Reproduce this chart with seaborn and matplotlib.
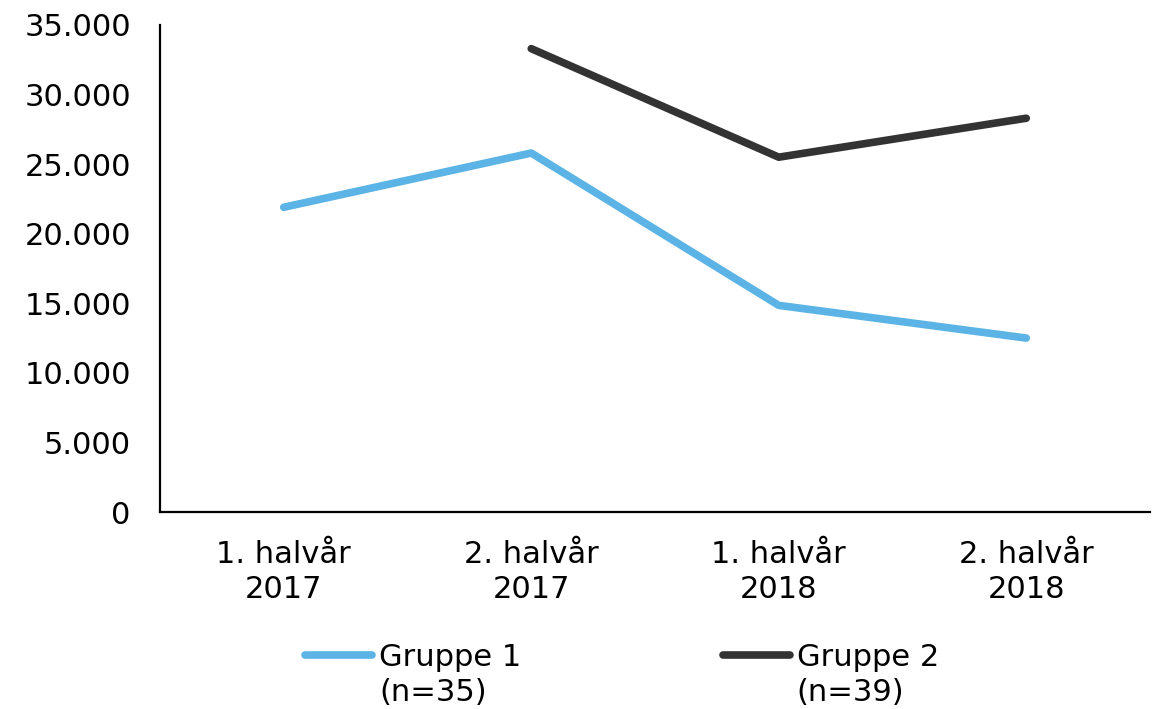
import matplotlib
matplotlib.use("Agg")
import matplotlib.pyplot as plt
import seaborn as sns
import pandas as pd
import numpy as np
from matplotlib.ticker import FuncFormatter, MultipleLocator
from matplotlib.lines import Line2D

periods = ["1. halvår\n2017", "2. halvår\n2017", "1. halvår\n2018", "2. halvår\n2018"]
gruppe1 = [21900, 25800, 14850, 12500]
gruppe2 = [np.nan, 33300, 25500, 28300]
series_names = ["Gruppe 1", "Gruppe 2"]
series_counts = ["(n=35)", "(n=39)"]
colors = ["#5BB4E5", "#333333"]

df = pd.DataFrame({
    "period": periods * 2,
    "value": gruppe1 + gruppe2,
    "series": [series_names[0]] * 4 + [series_names[1]] * 4,
})

sns.set_theme(style="white")
plt.rcParams["font.family"] = ["DejaVu Sans"]
plt.rcParams["text.color"] = "black"
plt.rcParams["xtick.color"] = "black"
plt.rcParams["ytick.color"] = "black"

FS = 22

fig = plt.figure(figsize=(11.56, 7.09), dpi=100)
ax = fig.add_axes([160 / 1156, 1 - 512 / 709, (1150 - 160) / 1156, (512 - 25) / 709])

sns.lineplot(data=df, x="period", y="value", hue="series", palette=colors,
             linewidth=5.5, ax=ax, sort=False, legend=False)
for ln in ax.lines:
    ln.set_solid_capstyle("round")

ax.set_xlim(-0.5, 3.5)
ax.set_ylim(0, 35000)
ax.yaxis.set_major_locator(MultipleLocator(5000))
ax.yaxis.set_major_formatter(FuncFormatter(lambda v, p: f"{int(v):,}".replace(",", ".")))
ax.set_xticks(range(len(periods)))
ax.set_xticklabels(periods, fontsize=FS, linespacing=1.27)
ax.tick_params(axis="y", labelsize=FS, length=0, pad=21)
ax.tick_params(axis="x", length=0, pad=20)
ax.set_xlabel("")
ax.set_ylabel("")
for s in ["top", "right"]:
    ax.spines[s].set_visible(False)
for s in ["left", "bottom"]:
    ax.spines[s].set_color("black")
    ax.spines[s].set_linewidth(1.6)

handles = [Line2D([], [], color=c, linewidth=5.5, solid_capstyle="round") for c in colors]
leg = fig.legend(handles, series_names, loc="upper left", bbox_to_anchor=(305 / 1156, 1 - 643 / 709),
                 ncol=2, frameon=False, fontsize=FS, handlelength=2.2,
                 handletextpad=0.22, columnspacing=6.6, borderaxespad=0, borderpad=0)
for t, cnt in zip(leg.get_texts(), series_counts):
    ax.annotate(cnt, xy=(0, 0), xycoords=t, xytext=(0, -4), textcoords="offset points",
                ha="left", va="top", fontsize=FS, annotation_clip=False)

fig.canvas.draw()
fig.savefig("out.png", dpi=100)
